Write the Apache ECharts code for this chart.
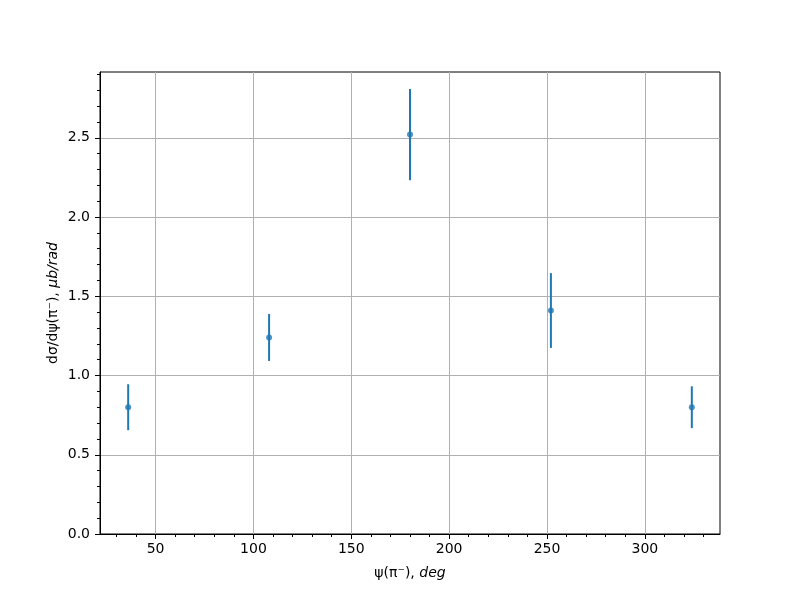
<!DOCTYPE html>
<html>
<head>
<meta charset="utf-8">
<script src="https://cdn.jsdelivr.net/npm/echarts@6/dist/echarts.min.js"></script>
<style>html,body{margin:0;padding:0;background:#fff}#c{width:800px;height:600px}</style>
</head>
<body>
<div id="c"></div>
<script>
const angles = [36, 108, 180, 252, 324];
const values = [0.80, 1.24, 2.52, 1.41, 0.80];
const errors = [0.145, 0.148, 0.288, 0.236, 0.132];
const xMajorTicks = [50, 100, 150, 200, 250, 300];
const xMinorTicks = [30, 40, 60, 70, 80, 90, 110, 120, 130, 140, 160, 170, 180, 190, 210, 220, 230, 240, 260, 270, 280, 290, 310, 320, 330];
const yMajorTicks = [0, 0.5, 1.0, 1.5, 2.0, 2.5];
const yMinorTicks = [0.1,0.2,0.3,0.4,0.6,0.7,0.8,0.9,1.1,1.2,1.3,1.4,1.6,1.7,1.8,1.9,2.1,2.2,2.3,2.4,2.6,2.7,2.8,2.9];
const xRange = [21.6, 338.4];
const yRange = [0, 2.915];

const FONT = 'DejaVu Sans';
const color = '#1f77b4';
const chart = echarts.init(document.getElementById('c'));

const pts = angles.map((a, i) => [a, values[i]]);
const errData = angles.map((a, i) => [a, values[i] - errors[i], values[i] + errors[i]]);

chart.setOption({
  animation: false,
  grid: { left: 100, right: 80, top: 72, bottom: 66, show: true, borderColor: '#000', borderWidth: 1, backgroundColor: 'transparent' },
  xAxis: [{
    type: 'value', min: xRange[0], max: xRange[1],
    name: '{n|ψ(π⁻), }{i|deg}', nameLocation: 'middle', nameGap: 32, nameMoveOverlap: false,
    nameTextStyle: { rich: { n: { fontFamily: FONT, fontSize: 14, color: '#000' }, i: { fontFamily: FONT, fontSize: 14, fontStyle: 'italic', color: '#000' } } },
    axisLine: { show: true, lineStyle: { color: '#000', width: 1 } },
    axisTick: { show: true, customValues: xMajorTicks, length: 5, lineStyle: { color: '#000', width: 1 } },
    axisLabel: { customValues: xMajorTicks, margin: 8, fontFamily: FONT, fontSize: 14, color: '#000' },
    splitLine: { show: true, lineStyle: { color: '#b0b0b0', width: 1 } }
  }, {
    type: 'value', min: xRange[0], max: xRange[1], position: 'bottom',
    axisLine: { show: false },
    axisTick: { show: true, customValues: xMinorTicks, length: 3, lineStyle: { color: '#000', width: 1 } },
    axisLabel: { show: false },
    splitLine: { show: false }
  }],
  yAxis: [{
    type: 'value', min: yRange[0], max: yRange[1],
    name: '{n|dσ/dψ(π⁻), }{i|μb/rad}', nameLocation: 'middle', nameGap: 47, nameMoveOverlap: false,
    nameTextStyle: { align: 'center', verticalAlign: 'middle', rich: { n: { fontFamily: FONT, fontSize: 14, color: '#000' }, i: { fontFamily: FONT, fontSize: 14, fontStyle: 'italic', color: '#000' } } },
    axisLine: { show: true, lineStyle: { color: '#000', width: 1 } },
    axisTick: { show: true, customValues: yMajorTicks, length: 5, lineStyle: { color: '#000', width: 1 } },
    axisLabel: { customValues: yMajorTicks, margin: 10, fontFamily: FONT, fontSize: 14, color: '#000', formatter: v => v.toFixed(1) },
    splitLine: { show: true, lineStyle: { color: '#b0b0b0', width: 1 } }
  }, {
    type: 'value', min: yRange[0], max: yRange[1], position: 'left',
    axisLine: { show: false },
    axisTick: { show: true, customValues: yMinorTicks, length: 3, lineStyle: { color: '#000', width: 1 } },
    axisLabel: { show: false },
    splitLine: { show: false }
  }],
  series: [{
    type: 'custom',
    xAxisIndex: 0, yAxisIndex: 0,
    data: errData,
    renderItem: (params, api) => {
      const lo = api.coord([api.value(0), api.value(1)]);
      const hi = api.coord([api.value(0), api.value(2)]);
      return { type: 'line', shape: { x1: lo[0], y1: lo[1], x2: hi[0], y2: hi[1] }, style: { stroke: color, lineWidth: 2 } };
    },
    z: 3
  }, {
    type: 'scatter',
    xAxisIndex: 0, yAxisIndex: 0,
    data: pts,
    symbol: 'circle', symbolSize: 6,
    itemStyle: { color: color },
    z: 4
  }]
});
</script>
</body>
</html>
